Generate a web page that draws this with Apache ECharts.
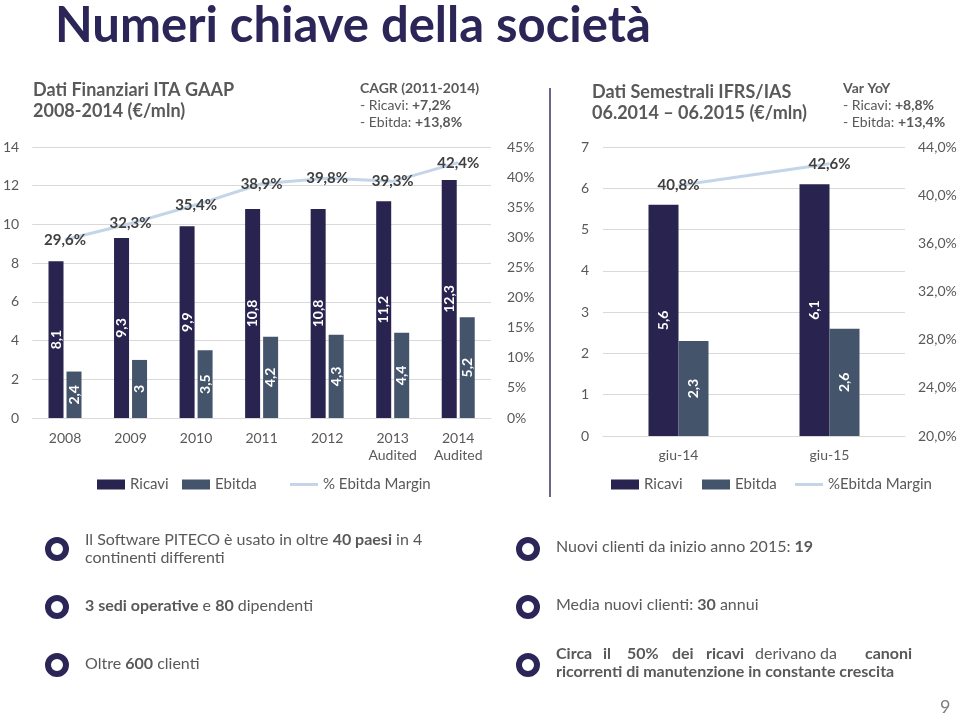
<!DOCTYPE html>
<html>
<head>
<meta charset="utf-8">
<script src="https://cdn.jsdelivr.net/npm/echarts@6/dist/echarts.min.js"></script>
<style>
html,body{margin:0;padding:0;background:#fff;}
#c{width:960px;height:720px;}
</style>
</head>
<body>
<div id="c"></div>
<script>
// ---- data ----
const years = ['2008', '2009', '2010', '2011', '2012', '2013\nAudited', '2014\nAudited'];
const ricaviAnnual = [8.1, 9.3, 9.9, 10.8, 10.8, 11.2, 12.3];
const ebitdaAnnual = [2.4, 3, 3.5, 4.2, 4.3, 4.4, 5.2];
const marginAnnual = [29.6, 32.3, 35.4, 38.9, 39.8, 39.3, 42.4];

const semesters = ['giu-14', 'giu-15'];
const ricaviSem = [5.6, 6.1];
const ebitdaSem = [2.3, 2.6];
const marginSem = [40.8, 42.6];

// ---- styles ----
const FONT = 'Lato';
const NAVY = '#28234f';
const SLATE = '#44546a';
const LINEC = '#c5d5e9';
const GRAY = '#595959';
const DARK = '#2b2657';

const comma = v => String(v).replace('.', ',');
const pct1 = v => v.toFixed(1).replace('.', ',') + '%';

const barLabel = {
  show: true, position: 'inside', rotate: 90, color: '#fff',
  fontFamily: FONT, fontWeight: 'bold', fontSize: 14,
  formatter: p => comma(p.value)
};
const lineLabel = {
  show: true, position: 'inside', color: '#404040',
  fontFamily: FONT, fontWeight: 'bold', fontSize: 15,
  formatter: p => pct1(p.value)
};
const axisText = { color: GRAY, fontFamily: FONT, fontSize: 14 };
const split = { show: true, lineStyle: { color: '#d9d9d9', width: 1 } };
const lineIcon = 'path://M0,0 L28,0 L28,3 L0,3 Z';

const chart = echarts.init(document.getElementById('c'), null, { renderer: 'canvas' });

function txt(x, y, text, rich, extra) {
  return Object.assign({
    type: 'text', left: x, top: y,
    style: { text: text, rich: rich, fontFamily: FONT, fontSize: 16, fill: GRAY }
  }, extra || {});
}
const bulletRich = {
  n: { fontFamily: FONT, fontSize: 16, color: '#505050', lineHeight: 18 },
  b: { fontFamily: FONT, fontSize: 16, color: '#3b3561', fontWeight: 'bold', lineHeight: 18 }
};
const smallRich = {
  h: { fontFamily: FONT, fontSize: 14, color: DARK, fontWeight: 'bold', lineHeight: 17 },
  n: { fontFamily: FONT, fontSize: 14, color: '#7f7f7f', lineHeight: 17 },
  b: { fontFamily: FONT, fontSize: 14, color: DARK, fontWeight: 'bold', lineHeight: 17 }
};
const headRich = {
  t: { fontFamily: FONT, fontSize: 18, color: DARK, fontWeight: 'bold', lineHeight: 21 }
};

function ring(cx, cy) {
  return { type: 'ring', shape: { cx: cx, cy: cy, r: 12, r0: 6 }, style: { fill: DARK } };
}

// words of the justified line (left edge of each word)
const justified = [
  ['Circa', 556, 'b'], ['il', 603, 'b'], ['50%', 627, 'b'], ['dei', 672, 'b'], ['ricavi', 706, 'b'],
  ['derivano', 755, 'n'], ['da', 820, 'n'], ['canoni', 865, 'b']
];

const graphics = [
  { type: 'text', left: 55, top: 2, style: { text: 'Numeri chiave della società', fontFamily: FONT, fontSize: 49, fontWeight: 'bold', fill: DARK } },
  txt(33, 81, '{t|Dati Finanziari ITA GAAP}\n{t|2008-2014 (€/mln)}', headRich),
  txt(360, 81, '{h|CAGR (2011-2014)}\n{n|- Ricavi: }{b|+7,2%}\n{n|- Ebitda: }{b|+13,8%}', smallRich),
  txt(592, 83, '{t|Dati Semestrali IFRS/IAS}\n{t|06.2014 – 06.2015 (€/mln)}', headRich),
  txt(843, 81, '{h|Var YoY}\n{n|- Ricavi: }{b|+8,8%}\n{n|- Ebitda: }{b|+13,4%}', smallRich),
  { type: 'line', shape: { x1: 550, y1: 88, x2: 550, y2: 497 }, style: { stroke: '#6b6590', lineWidth: 2 } },
  ring(57, 549), ring(57, 607), ring(57, 665),
  ring(528, 549), ring(528, 607), ring(528, 665),
  txt(85, 532, '{n|Il Software PITECO è usato in oltre }{b|40 paesi}{n| in 4}\n{n|continenti differenti}', bulletRich),
  txt(85, 598, '{b|3 sedi operative}{n| e }{b|80}{n| dipendenti}', bulletRich),
  txt(85, 656, '{n|Oltre }{b|600}{n| clienti}', bulletRich),
  txt(556, 539, '{n|Nuovi clienti da inizio anno 2015: }{b|19}', bulletRich),
  txt(556, 597, '{n|Media nuovi clienti: }{b|30}{n| annui}', bulletRich)
].concat(justified.map(w => txt(w[1], 646, '{' + w[2] + '|' + w[0] + '}', bulletRich)))
 .concat([
  txt(556, 664, '{b|ricorrenti di manutenzione in constante crescita}', bulletRich),
  { type: 'text', left: 940, top: 698, style: { text: '9', fontFamily: FONT, fontSize: 18, fill: '#7f7f7f' } }
]);

function legend(name, left, icon) {
  return {
    left: left, top: 477, padding: 0, itemWidth: 28, itemHeight: 10, itemGap: 0,
    textStyle: { color: GRAY, fontFamily: FONT, fontSize: 15 },
    data: [{ name: name, icon: icon }]
  };
}

const option = {
  backgroundColor: '#fff',
  animation: false,
  textStyle: { fontFamily: FONT },
  grid: [
    { left: 30, top: 147, width: 461, height: 271 },
    { left: 603, top: 147, width: 302, height: 289 }
  ],
  legend: [
    legend('Ricavi', 97, 'rect'),
    legend('Ebitda', 182, 'rect'),
    legend('% Ebitda Margin', 290, lineIcon),
    legend('Ricavi', 611, 'rect'),
    legend('Ebitda', 702, 'rect'),
    legend('%Ebitda Margin', 795, lineIcon)
  ],
  xAxis: [
    {
      gridIndex: 0, type: 'category', data: years,
      axisLine: { lineStyle: { color: '#d9d9d9' } }, axisTick: { show: false },
      axisLabel: Object.assign({ margin: 12, lineHeight: 17 }, axisText)
    },
    {
      gridIndex: 1, type: 'category', data: semesters,
      axisLine: { lineStyle: { color: '#d9d9d9' } }, axisTick: { show: false },
      axisLabel: Object.assign({ margin: 12 }, axisText)
    }
  ],
  yAxis: [
    {
      gridIndex: 0, type: 'value', min: 0, max: 14, interval: 2,
      axisLine: { show: false }, axisTick: { show: false }, splitLine: split,
      axisLabel: Object.assign({ margin: 13 }, axisText)
    },
    {
      gridIndex: 0, type: 'value', min: 0, max: 45, interval: 5, position: 'right',
      axisLine: { show: false }, axisTick: { show: false }, splitLine: { show: false },
      axisLabel: Object.assign({ margin: 16, formatter: v => v + '%' }, axisText)
    },
    {
      gridIndex: 1, type: 'value', min: 0, max: 7, interval: 1,
      axisLine: { show: false }, axisTick: { show: false }, splitLine: split,
      axisLabel: Object.assign({ margin: 14 }, axisText)
    },
    {
      gridIndex: 1, type: 'value', min: 20, max: 44, interval: 4, position: 'right',
      axisLine: { show: false }, axisTick: { show: false }, splitLine: { show: false },
      axisLabel: Object.assign({ margin: 13, formatter: v => pct1(v) }, axisText)
    }
  ],
  series: [
    { name: 'Ricavi', type: 'bar', xAxisIndex: 0, yAxisIndex: 0, data: ricaviAnnual, barWidth: 15, barGap: '20%', itemStyle: { color: NAVY }, label: barLabel },
    { name: 'Ebitda', type: 'bar', xAxisIndex: 0, yAxisIndex: 0, data: ebitdaAnnual, barWidth: 15, barGap: '20%', itemStyle: { color: SLATE }, label: barLabel },
    { name: '% Ebitda Margin', type: 'line', xAxisIndex: 0, yAxisIndex: 1, data: marginAnnual, symbol: 'circle', symbolSize: 1, itemStyle: { color: LINEC }, lineStyle: { color: LINEC, width: 3 }, label: lineLabel, z: 5 },
    { name: 'Ricavi', type: 'bar', xAxisIndex: 1, yAxisIndex: 2, data: ricaviSem, barWidth: 30, barGap: '0%', itemStyle: { color: NAVY }, label: barLabel },
    { name: 'Ebitda', type: 'bar', xAxisIndex: 1, yAxisIndex: 2, data: ebitdaSem, barWidth: 30, barGap: '0%', itemStyle: { color: SLATE }, label: barLabel },
    { name: '%Ebitda Margin', type: 'line', xAxisIndex: 1, yAxisIndex: 3, data: marginSem, symbol: 'circle', symbolSize: 1, itemStyle: { color: LINEC }, lineStyle: { color: LINEC, width: 3 }, label: lineLabel, z: 5 }
  ],
  graphic: graphics
};
chart.setOption(option);
</script>
</body>
</html>
